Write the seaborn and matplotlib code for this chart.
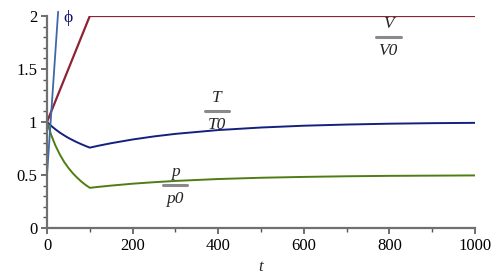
import matplotlib
matplotlib.use("Agg")
import matplotlib.pyplot as plt
from matplotlib.lines import Line2D
import seaborn as sns
import pandas as pd

# ---- data ----
t_vals = [0, 10, 20, 30, 40, 50, 60, 70, 80, 90, 100,
          120, 150, 200, 250, 300, 400, 500, 600, 700, 800, 900, 1000]
V_ratio = [1.0, 1.1, 1.2, 1.3, 1.4, 1.5, 1.6, 1.7, 1.8, 1.9, 2.0,
           2.0, 2.0, 2.0, 2.0, 2.0, 2.0, 2.0, 2.0, 2.0, 2.0, 2.0, 2.0]
T_ratio = [1.0, 0.963, 0.930, 0.900, 0.874, 0.850, 0.829, 0.809, 0.791, 0.774, 0.758,
           0.776, 0.800, 0.835, 0.864, 0.888, 0.924, 0.948, 0.965, 0.976, 0.984, 0.989, 0.992]
p_ratio = [1.0, 0.875, 0.775, 0.693, 0.624, 0.567, 0.518, 0.476, 0.439, 0.407, 0.379,
           0.388, 0.400, 0.418, 0.432, 0.444, 0.462, 0.474, 0.482, 0.488, 0.492, 0.494, 0.496]
phi_t = [0, 26]
phi_vals = [0.5, 2.04]

x_ticks = [0, 200, 400, 600, 800, 1000]
y_ticks = [0, 0.5, 1, 1.5, 2]
y_tick_labels = ["0", "0.5", "1", "1.5", "2"]

df = pd.DataFrame({"t": t_vals, "V": V_ratio, "T": T_ratio, "p": p_ratio})
df_phi = pd.DataFrame({"t": phi_t, "phi": phi_vals})

sns.set_theme(style="white")
SERIF = ["Liberation Serif", "DejaVu Serif"]
plt.rcParams["font.family"] = SERIF

fig = plt.figure(figsize=(4.98, 2.78), dpi=100)
ax = fig.add_axes([47 / 498, 50 / 278, 428 / 498, 212 / 278])

red = "#8E2236"
navy = "#14207F"
green = "#4F7D12"
phicol = "#3F68A8"

sns.lineplot(data=df, x="t", y="V", ax=ax, color=red, lw=1.6)
sns.lineplot(data=df, x="t", y="T", ax=ax, color=navy, lw=1.4)
sns.lineplot(data=df, x="t", y="p", ax=ax, color=green, lw=1.4)
sns.lineplot(data=df_phi, x="t", y="phi", ax=ax, color=phicol, lw=1.3)
ax.lines[-1].set_clip_on(False)

ax.set_xlim(0, 1000)
ax.set_ylim(0, 2)
ax.set_xticks(x_ticks)
ax.set_xticklabels([str(v) for v in x_ticks], family=SERIF)
ax.set_xticks(range(100, 1000, 200), minor=True)
ax.set_yticks(y_ticks)
ax.set_yticklabels(y_tick_labels, family=SERIF)
ax.set_yticks([i / 10 for i in range(21) if i % 5], minor=True)

for s in ["top", "right"]:
    ax.spines[s].set_visible(False)
for s in ["left", "bottom"]:
    ax.spines[s].set_color("#707070")
    ax.spines[s].set_linewidth(1.6)

ax.tick_params(axis="both", which="major", direction="out", length=4, width=1.2,
               color="#555555", labelsize=12, labelcolor="black", pad=3,
               left=True, bottom=True)
ax.tick_params(axis="both", which="minor", direction="out", length=3, width=1.0,
               color="#555555", left=True, bottom=True)

ax.set_xlabel("t", fontsize=12, style="italic", labelpad=4, family=SERIF)
ax.set_ylabel("")


def frac(ax, x, y, num, den, w):
    ax.annotate(num, (x, y), xytext=(0, 3.5), textcoords="offset points",
                ha="center", va="bottom", fontsize=12.5, style="italic", family=SERIF)
    ax.annotate(den, (x, y), xytext=(0, -4.5), textcoords="offset points",
                ha="center", va="top", fontsize=12.5, style="italic", family=SERIF)
    ax.add_line(Line2D([x - w, x + w], [y, y], color="#8a8a8a", lw=2.2))


frac(ax, 797, 1.80, "V", "V0", 29)
frac(ax, 397, 1.104, "T", "T0", 29)
frac(ax, 299, 0.406, "p", "p0", 29)
ax.text(50, 1.98, "\u03d5", color="#10106a", fontsize=12.5, ha="center", va="center",
        family=SERIF)

fig.savefig("out.png", dpi=100)
